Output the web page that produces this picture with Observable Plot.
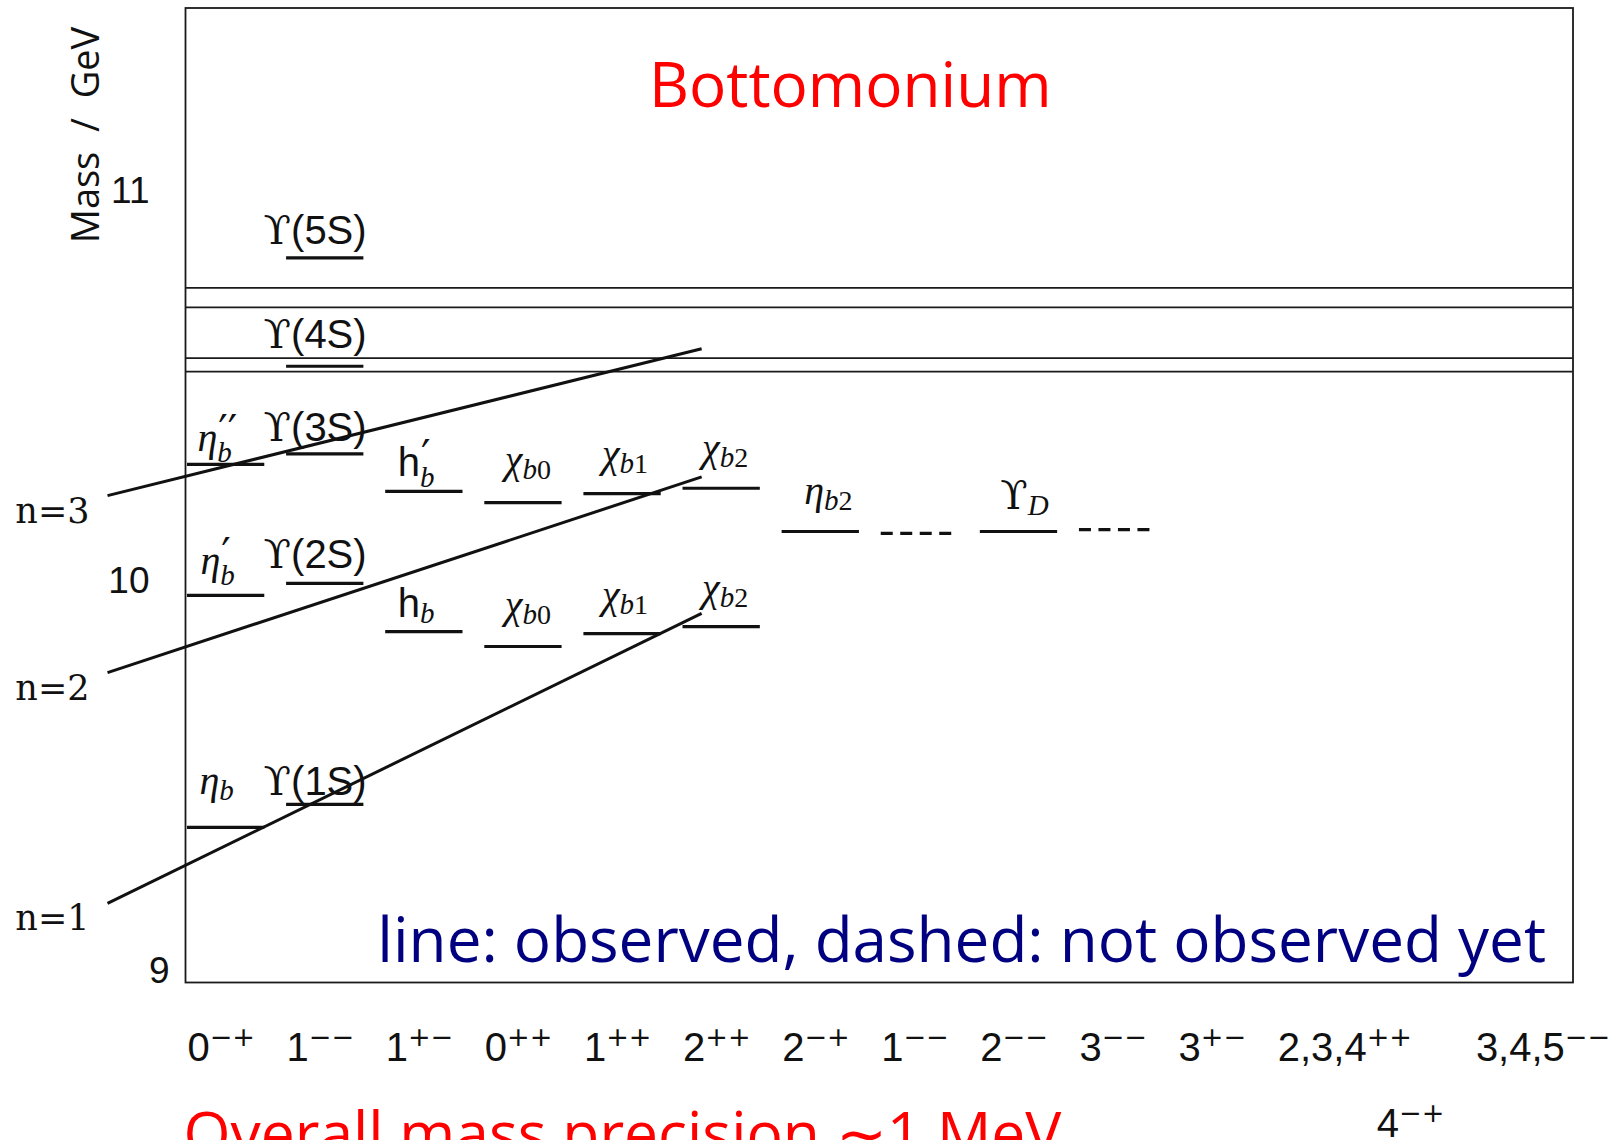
<!DOCTYPE html>
<html>
<head>
<meta charset="utf-8">
<script src="https://cdn.jsdelivr.net/npm/d3@7"></script>
<script src="https://cdn.jsdelivr.net/npm/@observablehq/plot@0.6"></script>
<style>
  html, body { margin: 0; padding: 0; background: #fff; overflow: hidden; }
  #chart { width: 1620px; height: 1140px; }
</style>
</head>
<body>
<div id="chart"></div>
<script>
// ---- Data -------------------------------------------------------------

// bb̄ states: label (TeX-like markup), J^PC column, mass in GeV, observed?
const stateNames    = ["η_{b}", "ϒ(1S)", "η_{b}^{′}", "ϒ(2S)", "η_{b}^{′′}", "ϒ(3S)", "ϒ(4S)", "ϒ(5S)",
                       "h_{b}", "h_{b}^{′}", "χ_{b0}", "χ_{b0}", "χ_{b1}", "χ_{b1}", "χ_{b2}", "χ_{b2}",
                       "η_{b2}", "", "ϒ_{D}", ""];
const stateColumn   = [0, 1, 0, 1, 0, 1, 1, 1, 2, 2, 3, 3, 4, 4, 5, 5, 6, 7, 8, 9];
const stateMass     = [9.398, 9.457, 9.993, 10.024, 10.329, 10.356, 10.581, 10.859,
                       9.900, 10.260, 9.862, 10.231, 9.895, 10.254, 9.913, 10.268,
                       10.157, 10.152, 10.157, 10.162];
const stateObserved = [true, true, true, true, true, true, true, true,
                       true, true, true, true, true, true, true, true,
                       true, false, true, false];

// open-flavour thresholds (GeV)
const thresholdMass = [10.567, 10.602, 10.732, 10.782];

// radial trajectories n = 1, 2, 3 (column coordinate, mass)
const nLabels  = ["n=1", "n=2", "n=3"];
const nStartX  = [-0.787, -0.787, -0.787];
const nStartM  = [9.203, 9.795, 10.249];
const nEndX    = [5.208, 5.208, 5.208];
const nEndM    = [9.947, 10.297, 10.626];

// J^PC column headings
const jpcTop        = ["0^{−+}", "1^{−−}", "1^{+−}", "0^{++}", "1^{++}", "2^{++}", "2^{−+}",
                       "1^{−−}", "2^{−−}", "3^{−−}", "3^{+−}", "2,3,4^{++}", "3,4,5^{−−}"];
const jpcTopColumn  = [0, 1, 2, 3, 4, 5, 6, 7, 8, 9, 10, 11, 13];
const jpcLow        = ["4^{−+}"];
const jpcLowColumn  = [12];

const massTicks = [9, 10, 11];

// ---- Layout (pixels) --------------------------------------------------

// label offset from the bar start (dx) and height of the baseline above the bar (lift)
const labelDx   = [12, -23, 13, -23, 10, -23, -23, -23, 12, 12, 20, 20, 18, 18, 19, 19, 22, 0, 20, 0];
const labelLift = [33, 9, 21, 15, 13, 13, 18, 14, 15, 15, 28, 30, 26, 27, 26, 27, 28, 0, 23, 0];

const SANS = "'Liberation Sans', Arial, sans-serif";
const NARROW = "'Liberation Sans Narrow', 'Liberation Sans', Arial, sans-serif";
const SERIF = "'Liberation Serif', 'DejaVu Serif', serif";
const SLIDE = "'Open Sans', 'Noto Sans', sans-serif";

const states = stateNames.map((name, i) => ({
  name, col: stateColumn[i], mass: stateMass[i], observed: stateObserved[i], i
}));
const nLines = nLabels.map((label, i) => ({
  label, x1: nStartX[i], y1: nStartM[i], x2: nEndX[i], y2: nEndM[i]
}));
const jpcTopRows = jpcTop.map((label, i) => ({label, col: jpcTopColumn[i]}));
const jpcLowRows = jpcLow.map((label, i) => ({label, col: jpcLowColumn[i]}));

const barStart = d => d.col + 0.02;
const barEnd = d => d.col + 0.8;

const labelMarks = states.filter(d => d.name).map(d =>
  Plot.text([d], {
    x: barStart, y: "mass", text: "name",
    dx: labelDx[d.i], dy: -labelLift[d.i],
    textAnchor: "start", lineAnchor: "bottom",
    fontFamily: SANS, fontSize: 40, fill: "#111"
  })
);

const chart = Plot.plot({
  width: 1620,
  height: 1140,
  marginLeft: 185,
  marginRight: 47.5,
  marginTop: 7.5,
  marginBottom: 158,
  x: {domain: [0, 14], axis: null},
  y: {domain: [9, 11.5], axis: null},
  style: {background: "#fff", fontFamily: SANS},
  marks: [
    Plot.frame({stroke: "#1a1a1a", strokeWidth: 1.8}),
    Plot.ruleY(thresholdMass, {stroke: "#1a1a1a", strokeWidth: 1.8}),
    Plot.ruleY(states.filter(d => d.observed), {
      y: "mass", x1: barStart, x2: barEnd, stroke: "#111", strokeWidth: 3.2
    }),
    Plot.ruleY(states.filter(d => !d.observed), {
      y: "mass", x1: barStart, x2: barEnd, stroke: "#111", strokeWidth: 3.2,
      strokeDasharray: "12,7.5"
    }),
    Plot.link(nLines, {x1: "x1", y1: "y1", x2: "x2", y2: "y2", stroke: "#111", strokeWidth: 3}),
    Plot.text(nLines, {
      x: "x1", y: "y1", text: "label", dx: -18, dy: 27,
      textAnchor: "end", lineAnchor: "bottom",
      fontFamily: "'DejaVu Serif', serif", fontSize: 35, fill: "#111"
    }),
    // mass axis labels
    Plot.text(massTicks.filter(v => v !== 9), {
      y: d => d, text: d => String(d), frameAnchor: "left", dx: -36,
      textAnchor: "end", lineAnchor: "bottom", fontSize: 37, fill: "#111"
    }),
    Plot.text(massTicks.filter(v => v === 9), {
      y: d => d, text: d => String(d), frameAnchor: "left", dx: -16,
      textAnchor: "end", lineAnchor: "bottom", fontSize: 37, fill: "#111"
    }),
    Plot.text(["Mass  /  GeV"], {
      text: d => d, frameAnchor: "top-left", dx: -99, dy: 127, rotate: -90,
      textAnchor: "middle", lineAnchor: "middle",
      fontFamily: SLIDE, fontSize: 38, fill: "#111"
    }),
    ...labelMarks,
    // J^PC headings
    Plot.text(jpcTopRows, {
      x: barStart, text: "label", frameAnchor: "bottom", dy: 78,
      textAnchor: "start", lineAnchor: "bottom",
      fontFamily: NARROW, fontSize: 40, fill: "#111"
    }),
    Plot.text(jpcLowRows, {
      x: barStart, text: "label", frameAnchor: "bottom", dy: 154,
      textAnchor: "start", lineAnchor: "bottom",
      fontFamily: NARROW, fontSize: 40, fill: "#111"
    }),
    // title and notes
    Plot.text(["Bottomonium"], {
      text: d => d, frameAnchor: "top", dx: -29, dy: 99,
      lineAnchor: "bottom", fontFamily: SLIDE, fontSize: 62, fill: "#ff0000"
    }),
    Plot.text(["line: observed, dashed: not observed yet"], {
      text: d => d, frameAnchor: "bottom-right", dx: -27, dy: -21,
      textAnchor: "end", lineAnchor: "bottom",
      fontFamily: SLIDE, fontSize: 62, fill: "#000080"
    }),
    Plot.text(["Overall mass precision ∼1 MeV"], {
      text: d => d, frameAnchor: "bottom-left", dx: -2, dy: 172,
      textAnchor: "start", lineAnchor: "bottom",
      fontFamily: SLIDE, fontSize: 60.5, fill: "#ff0000"
    })
  ]
});

document.getElementById("chart").appendChild(chart);

// Turn the small markup (_{sub}, ^{sup}, Greek symbols) into styled tspans.
function richify(root) {
  const NS = "http://www.w3.org/2000/svg";
  const styleFor = (ch, mode) => {
    if (mode === "base") {
      if (ch === "η" || ch === "χ") return {family: SERIF, italic: true, size: 40};
      if (ch === "ϒ") return {family: "'DejaVu Serif', serif", italic: false, size: 40};
      return null;
    }
    if (mode === "sub") {
      if (/[0-9]/.test(ch)) return {family: SERIF, italic: false, size: 28};
      return {family: SERIF, italic: true, size: 29};
    }
    if (ch === "′") return {family: "'DejaVu Sans', sans-serif", italic: false, size: 42};
    return {family: "'DejaVu Sans', sans-serif", italic: false, size: 27};
  };
  const key = s => s ? `${s.family}|${s.italic}|${s.size}` : "inherit";
  root.querySelectorAll("text").forEach(el => {
    const src = el.textContent;
    if (!/[_^]\{|[ηχϒ]/.test(src)) return;
    const parts = [];
    const re = /([_^])\{([^}]*)\}|([^_^]+)/g;
    let m;
    while ((m = re.exec(src))) {
      parts.push(m[1] ? {mode: m[1] === "_" ? "sub" : "sup", text: m[2]} : {mode: "base", text: m[3]});
    }
    const hasSup = parts.some(p => p.mode === "sup");
    el.textContent = "";
    let level = 0, subWidth = 0;
    for (const p of parts) {
      const target = p.mode === "sub" ? (hasSup ? 11 : 6)
                   : p.mode === "sup" ? (p.text.includes("′") ? -6 : -15) : 0;
      // group consecutive characters sharing a style
      const runs = [];
      for (const ch of p.text) {
        const s = styleFor(ch, p.mode);
        const last = runs[runs.length - 1];
        if (last && key(last.style) === key(s)) last.text += ch;
        else runs.push({text: ch, style: s});
      }
      let width = 0;
      runs.forEach((run, k) => {
        const t = document.createElementNS(NS, "tspan");
        t.textContent = run.text;
        if (run.style) {
          t.setAttribute("font-family", run.style.family);
          t.setAttribute("font-size", run.style.size);
          if (run.style.italic) t.setAttribute("font-style", "italic");
        }
        if (k === 0) {
          if (target !== level) t.setAttribute("dy", target - level);
          if (p.mode === "sup" && subWidth) t.setAttribute("dx", -subWidth + 1);
        }
        el.appendChild(t);
        width += t.getComputedTextLength();
      });
      level = target;
      if (p.mode === "sub") subWidth = width;
    }
  });
}
richify(chart);
</script>
</body>
</html>
